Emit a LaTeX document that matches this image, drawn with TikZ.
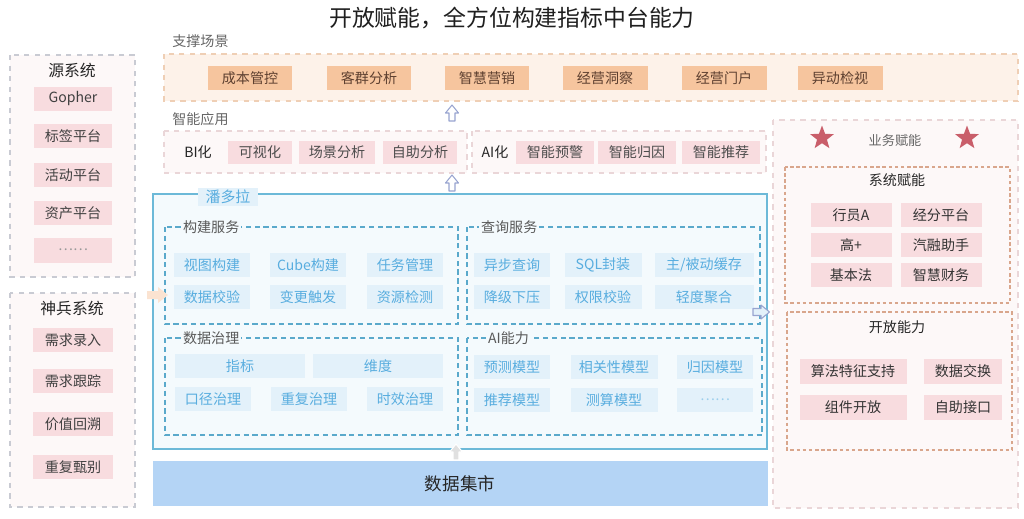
\documentclass[tikz,border=0pt]{standalone}
\usepackage{fontspec}
\setmainfont{Noto Sans CJK SC}
\usetikzlibrary{shapes.geometric}

\definecolor{orangeL}{HTML}{FDF2E9}
\definecolor{orangeD}{HTML}{EFCFB5}
\definecolor{orangeI}{HTML}{F6C59E}
\definecolor{orangeT}{HTML}{5E4030}
\definecolor{pinkL}{HTML}{FDF8F8}
\definecolor{pinkD}{HTML}{EAD6D8}
\definecolor{pinkI}{HTML}{F8DCDF}
\definecolor{grayD}{HTML}{C9CBD3}
\definecolor{blueF}{HTML}{6CB9D8}
\definecolor{blueL}{HTML}{F4FAFD}
\definecolor{blueD}{HTML}{5AA9CB}
\definecolor{blueI}{HTML}{E3F1FA}
\definecolor{blueT}{HTML}{58ADDF}
\definecolor{martC}{HTML}{B4D4F5}
\definecolor{brownD}{HTML}{D9A68C}
\definecolor{starC}{HTML}{C95E6A}
\definecolor{arrowD}{HTML}{98A4D0}
\definecolor{peachC}{HTML}{FBE3D1}

\tikzset{
  txt/.style={font=\fontsize{8}{9.6}\selectfont, inner sep=0pt},
  item/.style={txt, minimum height=0.48cm, text=black!80},
  topitem/.style={item, fill=orangeI, text=orangeT, minimum width=1.7cm},
  appitem/.style={item, fill=pinkI, minimum width=1.54cm, minimum height=0.46cm, text=black!70},
  srcitem/.style={item, fill=pinkI, minimum width=1.57cm, minimum height=0.47cm, text=black!75},
  panitem/.style={item, fill=blueI, text=blueT, minimum width=1.54cm},
  bizitem/.style={item, fill=pinkI, minimum width=1.62cm},
  seclabel/.style={txt, text=black!60},
  boxtitle/.style={txt, font=\fontsize{9}{11}\selectfont, text=black!85},
  innerlabel/.style={txt, fill=blueL, text=black!65, inner xsep=1pt, anchor=west},
  topframe/.style={draw=orangeD, fill=orangeL, dashed, line width=0.7pt},
  appframe/.style={draw=pinkD, fill=pinkL, dashed, line width=0.6pt},
  srcframe/.style={draw=grayD, fill=pinkL, dashed, line width=0.6pt},
  panframe/.style={draw=blueF, fill=blueL, line width=1.1pt},
  paninner/.style={draw=blueD, dash pattern=on 3pt off 2pt, line width=0.9pt},
  bizframe/.style={draw=pinkD, fill=pinkL, dashed, line width=0.6pt},
  bizinner/.style={draw=brownD, dash pattern=on 2pt off 1.5pt, line width=0.7pt},
  hollowarrow/.style={draw=arrowD, fill=white, line width=0.6pt, line join=round},
  bizstar/.style={star, star points=5, star point ratio=2.4, fill=starC, minimum size=0.5cm, inner sep=0pt}
}

\begin{document}
\begin{tikzpicture}[x=0.02cm, y=-0.02cm]
  \useasboundingbox (0,0) rectangle (1024,518);

  \node[txt, font=\fontsize{13}{15}\selectfont, text=black!88] (title) at (512,18) {开放赋能，全方位构建指标中台能力};

  % source systems
  \draw[srcframe] (10,55) rectangle (135,277);
  \node[boxtitle] (srctitle) at (72,70) {源系统};
  \node[srcitem] (gopher) at (73,99) {Gopher};
  \node[srcitem] (tagplat) at (73,136) {标签平台};
  \node[srcitem] (actplat) at (73,175) {活动平台};
  \node[srcitem] (assetplat) at (73,213) {资产平台};
  \node[srcitem, minimum height=0.5cm, text=black!40] (srcmore) at (73,250) {……};

  \draw[srcframe] (10,293) rectangle (135,507);
  \node[boxtitle] (sbtitle) at (72,308) {神兵系统};
  \node[srcitem, minimum width=1.6cm] (reqin) at (73,340) {需求录入};
  \node[srcitem, minimum width=1.6cm] (reqtrack) at (73,381) {需求跟踪};
  \node[srcitem, minimum width=1.6cm] (valback) at (73,424) {价值回溯};
  \node[srcitem, minimum width=1.6cm] (dupcheck) at (73,467) {重复甄别};

  % support scenes
  \node[seclabel, anchor=west] (supportlbl) at (172,41) {支撑场景};
  \draw[topframe] (164,54) rectangle (1018,101);
  \node[topitem] (cost) at (250,78) {成本管控};
  \node[topitem] (crowd) at (369,78) {客群分析};
  \node[topitem] (market) at (487,78) {智慧营销};
  \node[topitem] (insight) at (605,78) {经营洞察};
  \node[topitem] (portal) at (724,78) {经营门户};
  \node[topitem] (anomaly) at (840,78) {异动检视};

  % smart applications
  \node[seclabel, anchor=west] (applbl) at (172,119) {智能应用};
  \draw[appframe] (164,131) rectangle (467,173);
  \draw[appframe] (472,131) rectangle (766,173);
  \node[txt, text=black!85] (bi) at (198,152) {BI化};
  \node[appitem, minimum width=1.3cm] (visual) at (260,152) {可视化};
  \node[appitem] (scene) at (337,152) {场景分析};
  \node[appitem, minimum width=1.5cm] (selfana) at (420,152) {自助分析};
  \node[txt, text=black!85] (ai) at (495,152) {AI化};
  \node[appitem, minimum width=1.56cm] (warn) at (555,152) {智能预警};
  \node[appitem, minimum width=1.56cm] (attr) at (637,152) {智能归因};
  \node[appitem, minimum width=1.56cm] (recom) at (721,152) {智能推荐};

  \coordinate (upone) at (452,113);
  \coordinate (uptwo) at (452,183);
  \draw[hollowarrow, shift={(upone)}] (-3,8) -- (-3,0) -- (-6.5,0) -- (0,-8) -- (6.5,0) -- (3,0) -- (3,8) -- cycle;
  \draw[hollowarrow, shift={(uptwo)}] (-3,8) -- (-3,0) -- (-6.5,0) -- (0,-8) -- (6.5,0) -- (3,0) -- (3,8) -- cycle;

  % pandora
  \draw[panframe] (153,194) rectangle (767,449);
  \node[txt, fill=blueI, text=blueT, font=\fontsize{8.5}{10}\selectfont, minimum width=1.2cm, minimum height=0.36cm] (pandora) at (228,197) {潘多拉};

  \draw[paninner] (165,227) rectangle (458,324);
  \node[innerlabel] (buildlbl) at (181,227) {构建服务};
  \node[panitem] (viewbuild) at (212,265) {视图构建};
  \node[panitem] (cubebuild) at (308,265) {Cube构建};
  \node[panitem] (taskmgmt) at (405,265) {任务管理};
  \node[panitem] (datacheck) at (212,297) {数据校验};
  \node[panitem] (change) at (308,297) {变更触发};
  \node[panitem] (resdetect) at (405,297) {资源检测};

  \draw[paninner] (165,338) rectangle (458,435);
  \node[innerlabel] (govlbl) at (181,338) {数据治理};
  \node[panitem, minimum width=2.6cm] (metric) at (240,366) {指标};
  \node[panitem, minimum width=2.6cm] (dimension) at (378,366) {维度};
  \node[panitem] (caliber) at (213,399) {口径治理};
  \node[panitem] (dupgov) at (309,399) {重复治理};
  \node[panitem] (timegov) at (405,399) {时效治理};

  \draw[paninner] (467,227) rectangle (760,324);
  \node[innerlabel] (querylbl) at (479,227) {查询服务};
  \node[panitem] (asyncq) at (512,265) {异步查询};
  \node[panitem] (sqlwrap) at (603,265) {SQL封装};
  \node[panitem, minimum width=1.98cm] (cache) at (704,265) {主/被动缓存};
  \node[panitem] (degrade) at (512,297) {降级下压};
  \node[panitem] (permcheck) at (603,297) {权限校验};
  \node[panitem, minimum width=1.98cm] (lightagg) at (704,297) {轻度聚合};

  \draw[paninner] (467,338) rectangle (762,435);
  \node[innerlabel] (ailbl) at (486,338) {AI能力};
  \node[panitem] (predict) at (512,367) {预测模型};
  \node[panitem, minimum width=1.74cm] (correl) at (614,367) {相关性模型};
  \node[panitem, minimum width=1.52cm] (cause) at (715,367) {归因模型};
  \node[panitem] (recmodel) at (512,400) {推荐模型};
  \node[panitem, minimum width=1.74cm] (estimate) at (614,400) {测算模型};
  \node[panitem, minimum width=1.52cm, text=blueT!60] (aimore) at (715,400) {……};

  \coordinate (peach) at (157,295);
  \coordinate (toright) at (761,312);
  \fill[peachC, shift={(peach)}] (-10,-4) -- (1,-4) -- (1,-8) -- (11,0) -- (1,8) -- (1,4) -- (-10,4) -- cycle;
  \draw[hollowarrow, fill=blueI, shift={(toright)}] (-8,-3.5) -- (0,-3.5) -- (0,-7) -- (8.5,0) -- (0,7) -- (0,3.5) -- (-8,3.5) -- cycle;

  % data mart
  \fill[martC] (153,461) rectangle (768,506);
  \node[txt, font=\fontsize{10}{12}\selectfont, text=black!85] (mart) at (460,484) {数据集市};
  \coordinate (upthree) at (456,452);
  \draw[hollowarrow, draw=white, fill=black!12, shift={(upthree)}] (-3,8) -- (-3,0) -- (-6.5,0) -- (0,-8) -- (6.5,0) -- (3,0) -- (3,8) -- cycle;

  % business enablement
  \draw[bizframe] (773,120) rectangle (1018,508);
  \node[bizstar] (starl) at (822,138) {};
  \node[bizstar] (starr) at (967,138) {};
  \node[txt, text=black!60, font=\fontsize{7.5}{9}\selectfont] (bizlbl) at (895,140) {业务赋能};

  \draw[bizinner] (785,167) rectangle (1010,303);
  \node[boxtitle, font=\fontsize{8}{9.6}\selectfont] (systitle) at (897,180) {系统赋能};
  \node[bizitem] (clerk) at (851,215) {行员A};
  \node[bizitem] (jingfen) at (941,215) {经分平台};
  \node[bizitem] (gaojia) at (851,245) {高+};
  \node[bizitem] (autofin) at (941,245) {汽融助手};
  \node[bizitem] (basiclaw) at (851,275) {基本法};
  \node[bizitem] (smartfin) at (941,275) {智慧财务};

  \draw[bizinner] (787,312) rectangle (1012,450);
  \node[boxtitle, font=\fontsize{8}{9.6}\selectfont] (opentitle) at (897,327) {开放能力};
  \node[bizitem, minimum width=2.14cm, minimum height=0.5cm] (algo) at (853,371) {算法特征支持};
  \node[bizitem, minimum width=1.56cm, minimum height=0.5cm] (exchange) at (963,371) {数据交换};
  \node[bizitem, minimum width=2.14cm, minimum height=0.5cm] (compopen) at (853,407) {组件开放};
  \node[bizitem, minimum width=1.56cm, minimum height=0.5cm] (selfapi) at (963,407) {自助接口};
\end{tikzpicture}
\end{document}
